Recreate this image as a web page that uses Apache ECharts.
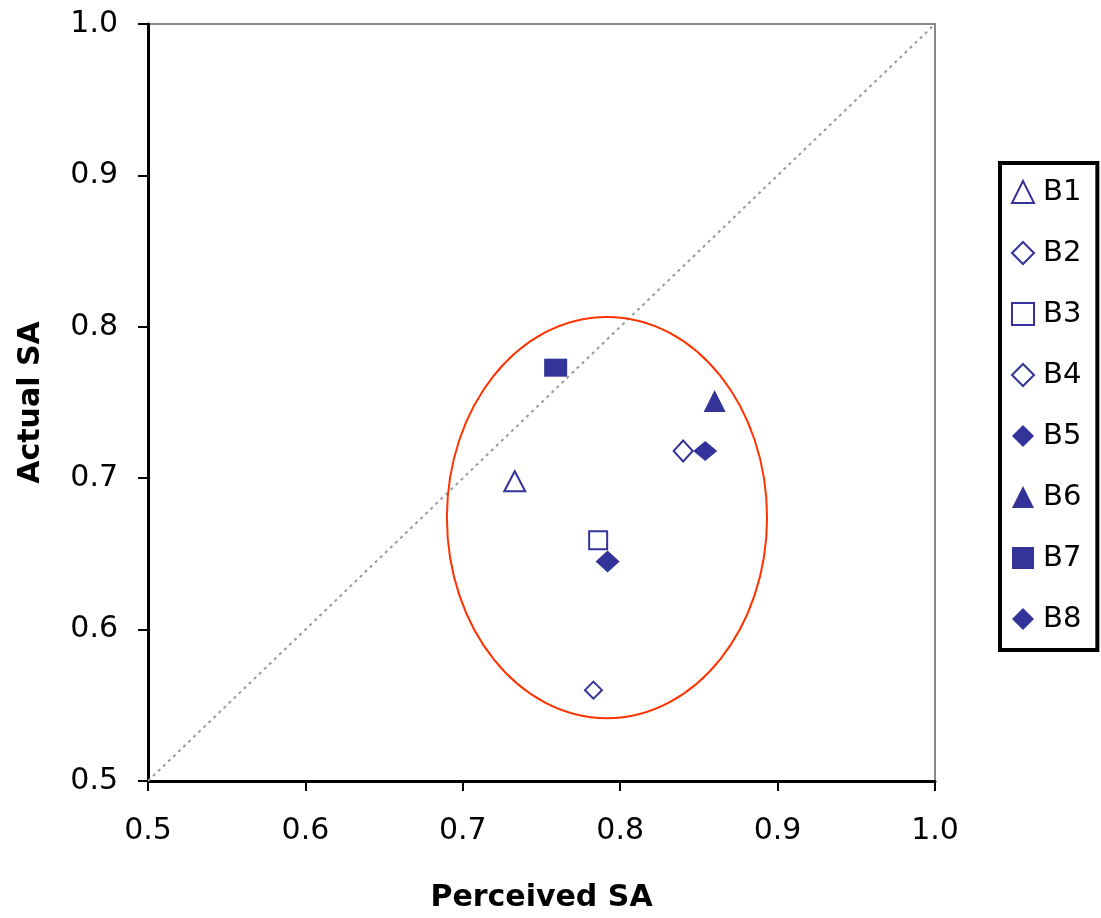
<!DOCTYPE html>
<html><head><meta charset="utf-8">
<script src="https://cdn.jsdelivr.net/npm/echarts@6/dist/echarts.min.js"></script>
<style>html,body{margin:0;padding:0;background:#fff}#c{width:1101px;height:918px}</style>
</head><body><div id="c"></div>
<script>
const seriesNames = ['B1','B2','B3','B4','B5','B6','B7','B8'];
const perceived = [0.733, 0.840, 0.786, 0.783, 0.854, 0.860, 0.759, 0.792];
const actual    = [0.698, 0.718, 0.659, 0.560, 0.718, 0.751, 0.773, 0.645];
const symbols   = ['triangle','diamond','rect','diamond','diamond','triangle','rect','diamond'];
const filled    = [false,false,false,false,true,true,true,true];
const symSizes  = [[21,20],[19,21],[18,18],[17,17],[24,20],[22,22],[23,18],[24,22]];
const tickLabels = ['0.5','0.6','0.7','0.8','0.9','1.0'];
const diagonal = [[0.5,0.5],[1.0,1.0]];
const ellipseCenter = [0.7916, 0.674];
const ellipseRadius = [0.1017, 0.1325];

const navy = '#333399';
const font = '"DejaVu Sans", sans-serif';
const chart = echarts.init(document.getElementById('c'));

const series = seriesNames.map((n,i)=>({
  name:n, type:'scatter', symbol:symbols[i], symbolSize:symSizes[i],
  data:[[perceived[i], actual[i]]],
  itemStyle: filled[i] ? {color:navy, opacity:1} : {color:'#fff', borderColor:navy, borderWidth:2, opacity:1},
  emphasis:{disabled:true},
  z:5
}));
series.unshift({
  name:'diag', type:'line', data:diagonal, symbol:'none', silent:true,
  lineStyle:{color:'#999', type:[3,4], width:2}, z:2
});

const axisCommon = {
  min:0.5, max:1.0, interval:0.1,
  axisLine:{show:true, onZero:false, lineStyle:{color:'#000', width:3}},
  axisTick:{show:true, length:10, lineStyle:{color:'#000', width:2}},
  splitLine:{show:false},
  axisLabel:{color:'#000', fontSize:30, fontFamily:font, formatter:v=>tickLabels[Math.round((v-0.5)*10)]},
  nameLocation:'middle',
  nameTextStyle:{color:'#000', fontSize:30, fontWeight:'bold', fontFamily:font}
};

chart.setOption({
  animation:false,
  backgroundColor:'#fff',
  grid:{left:148, right:166, top:24, bottom:137, show:true, borderColor:'#888', borderWidth:2},
  xAxis:Object.assign({}, axisCommon, {type:'value', name:'Perceived SA', nameGap:102,
    axisLabel:Object.assign({}, axisCommon.axisLabel, {margin:35})}),
  yAxis:Object.assign({}, axisCommon, {type:'value', name:'Actual SA', nameGap:102,
    axisLabel:Object.assign({}, axisCommon.axisLabel, {margin:30})}),
  legend:{
    data:seriesNames, orient:'vertical', left:1000, top:163,
    borderColor:'#000', borderWidth:4, padding:[14,16,16,11],
    itemGap:31, itemWidth:22, itemHeight:22,
    textStyle:{color:'#000', fontSize:29, lineHeight:30, fontFamily:font, padding:[0,0,0,4]}
  },
  series:series
});

function drawEllipse(){
  const c = chart.convertToPixel({gridIndex:0}, ellipseCenter);
  const e = chart.convertToPixel({gridIndex:0}, [ellipseCenter[0]+ellipseRadius[0], ellipseCenter[1]+ellipseRadius[1]]);
  chart.setOption({graphic:[{type:'ellipse', shape:{cx:c[0], cy:c[1], rx:Math.abs(e[0]-c[0]), ry:Math.abs(e[1]-c[1])},
    style:{fill:null, stroke:'#ff3300', lineWidth:2}, z:3, silent:true}]});
}
drawEllipse();
</script></body></html>
